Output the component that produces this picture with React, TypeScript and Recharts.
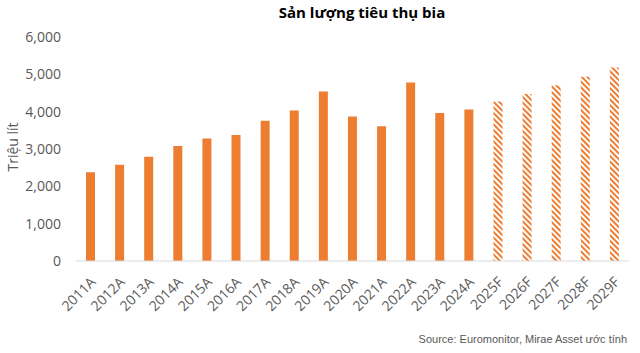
import React from "react"
import { Bar, BarChart, Cell, XAxis, YAxis } from "recharts"

// Categories and values (million litres), A = actual, F = forecast
const years = [
  "2011A", "2012A", "2013A", "2014A", "2015A", "2016A", "2017A", "2018A", "2019A", "2020A",
  "2021A", "2022A", "2023A", "2024A", "2025F", "2026F", "2027F", "2028F", "2029F",
]
const volumes = [
  2380, 2580, 2790, 3080, 3280, 3375, 3760, 4030, 4540, 3870,
  3610, 4780, 3965, 4060, 4275, 4475, 4705, 4935, 5185,
]
const yTicks = [0, 1000, 2000, 3000, 4000, 5000, 6000]

const ORANGE = "#ED7D31"
const GREY = "#595959"
const FONT = "'Open Sans', sans-serif"

const data = years.map((year, i) => ({ year, value: volumes[i] }))

function XTick({ x, y, payload }: any) {
  const ax = x + 6
  const ay = y + 14
  return (
    <text
      x={ax}
      y={ay}
      transform={`rotate(-45, ${ax}, ${ay})`}
      textAnchor="end"
      fontSize={14}
      fontFamily={FONT}
      fill={GREY}
    >
      {payload.value}
    </text>
  )
}

function YLabel({ viewBox }: any) {
  const cx = 18
  const cy = viewBox.y + viewBox.height / 2 - 2
  return (
    <text
      x={cx}
      y={cy}
      transform={`rotate(-90, ${cx}, ${cy})`}
      textAnchor="middle"
      fontSize={14}
      fontFamily={FONT}
      fill={GREY}
    >
      Triệu lít
    </text>
  )
}

export default function App() {
  return (
    <div style={{ position: "absolute", left: 0, top: 0, width: 640, height: 353, background: "#fff" }}>
      <div
        style={{
          position: "absolute",
          left: 362,
          top: 2,
          transform: "translateX(-50%)",
          whiteSpace: "nowrap",
          fontFamily: FONT,
          fontWeight: 700,
          fontSize: 15,
          color: "#000",
        }}
      >
        Sản lượng tiêu thụ bia
      </div>
      <BarChart
        width={640}
        height={353}
        data={data}
        margin={{ top: 37, right: 11, left: 0, bottom: 32 }}
        barCategoryGap={0}
      >
        <defs>
          <pattern id="hatch" width="4" height="4" patternUnits="userSpaceOnUse" patternTransform="rotate(-45)">
            <rect width="4" height="4" fill="#fff" />
            <rect width="2" height="4" fill={ORANGE} />
          </pattern>
        </defs>
        <XAxis
          dataKey="year"
          interval={0}
          height={60}
          tickLine={false}
          axisLine={{ stroke: "#D9D9D9" }}
          tick={<XTick />}
        />
        <YAxis
          width={76}
          domain={[0, 6000]}
          ticks={yTicks}
          axisLine={false}
          tickLine={false}
          tickSize={0}
          tickMargin={15}
          tick={{ fontSize: 14, fontFamily: FONT, fill: GREY }}
          tickFormatter={(v: number) => v.toLocaleString("en-US")}
          label={<YLabel />}
        />
        <Bar dataKey="value" barSize={9} isAnimationActive={false}>
          {data.map((d) => (
            <Cell key={d.year} fill={d.year.endsWith("F") ? "url(#hatch)" : ORANGE} />
          ))}
        </Bar>
      </BarChart>
      <div
        style={{
          position: "absolute",
          right: 13,
          top: 333,
          whiteSpace: "nowrap",
          fontFamily: "'Liberation Sans', Arial, sans-serif",
          fontSize: 11,
          color: GREY,
        }}
      >
        Source: Euromonitor, Mirae Asset ước tính
      </div>
    </div>
  )
}
